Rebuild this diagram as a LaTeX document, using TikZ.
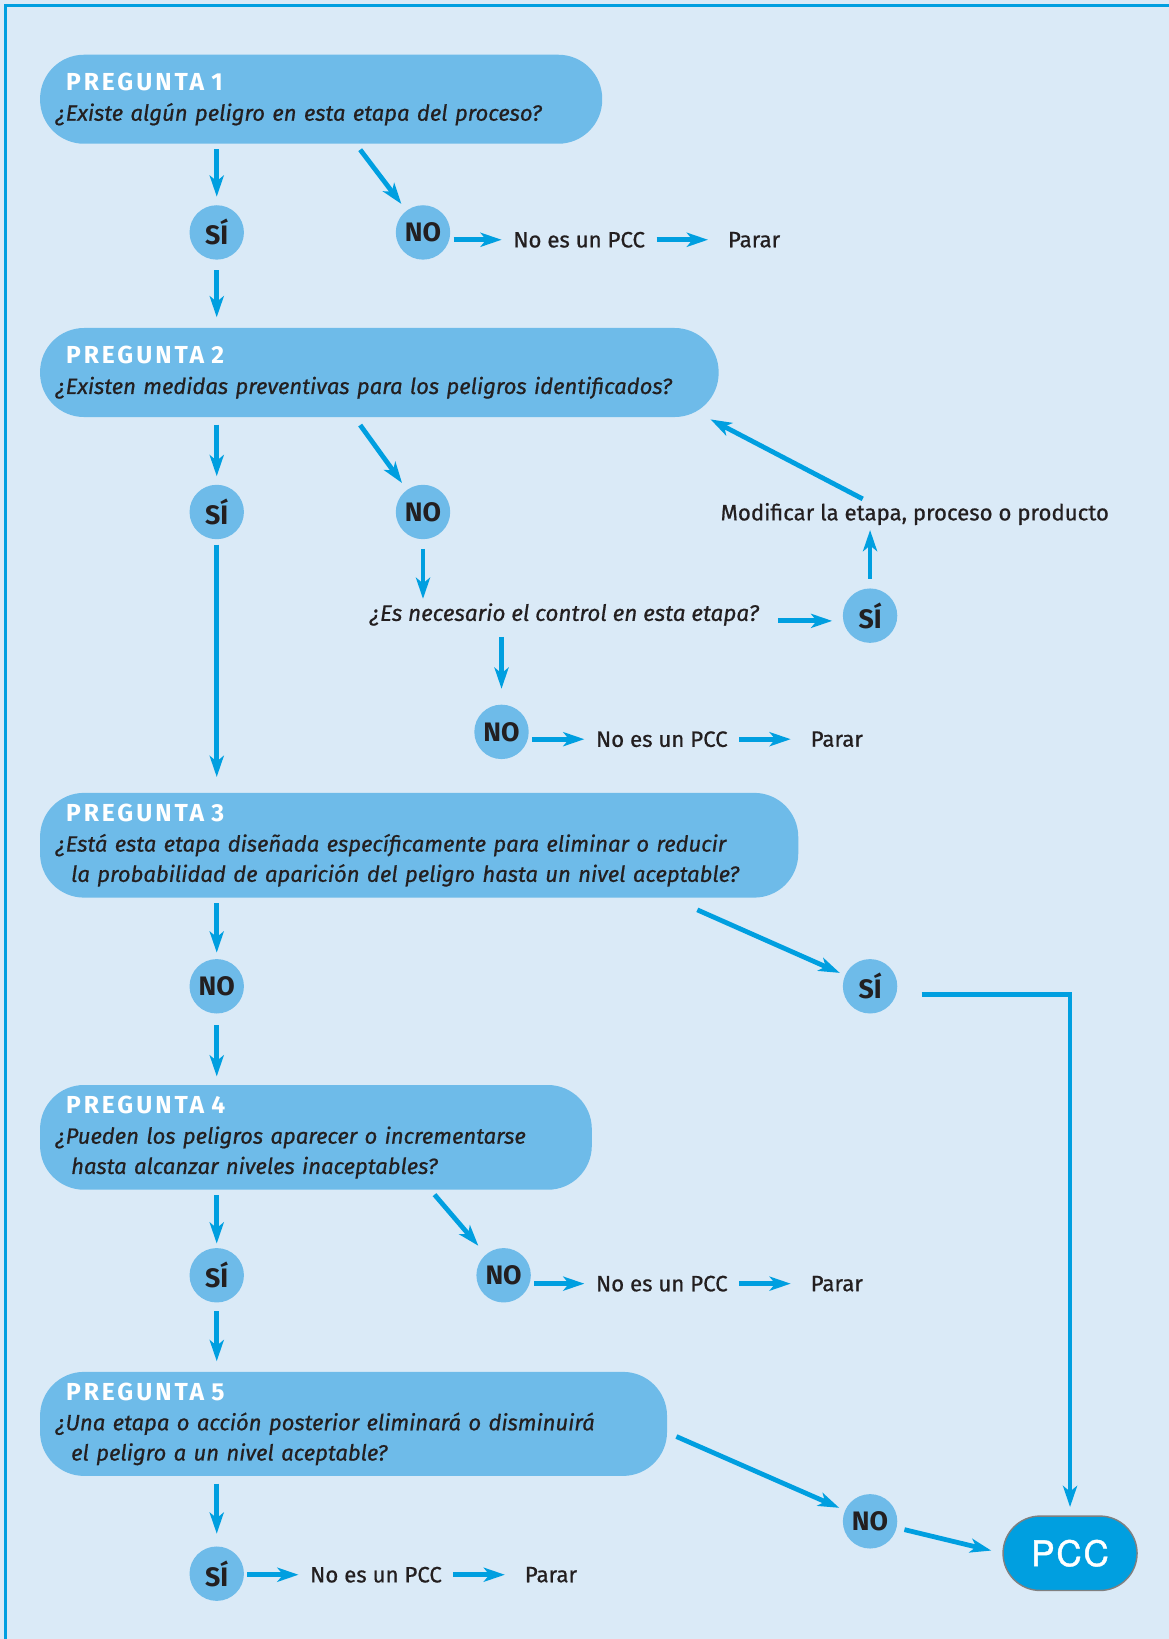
\documentclass[tikz,border=0pt]{standalone}
\usepackage{fontspec}
\setmainfont{Fira Sans}
\newfontfamily\medio{Fira Sans}[FakeBold=0.7]
\newfontfamily\pccfont{TeX Gyre Heros}[FakeBold=1.2, LetterSpace=5]
\usetikzlibrary{arrows.meta,calc}
\definecolor{fondo}{HTML}{DAEAF7}
\definecolor{celeste}{HTML}{6EBBE9}
\definecolor{azul}{HTML}{009FE0}
\definecolor{texto}{HTML}{231F20}
\newcommand{\titulo}[1]{\hspace*{7.4pt}{\rmfamily\upshape\bfseries\fontsize{17.5}{21.5}\selectfont\addfontfeatures{LetterSpace=12}\color{white}#1}}
\tikzset{pill/.style 2 args={fill=celeste, rounded corners=1.1cm, anchor=north west,
   align=left, inner xsep=0.39cm, inner ysep=0pt, text width=#1, minimum height=#2,
   font=\medio\fontsize{15.7}{21.5}\selectfont\itshape, text=texto},
 bola/.style={circle, fill=celeste, minimum size=1.36cm, inner sep=0pt,
   font=\fontsize{19}{19}\selectfont\bfseries, text=texto},
 etiqueta/.style={anchor=west, inner sep=0pt, font=\medio\fontsize{15.8}{15.8}\selectfont, text=texto},
 pregunta/.style={anchor=base west, inner sep=0pt, font=\medio\fontsize{16}{16}\selectfont\itshape, text=texto},
 pcc/.style={draw=gray, line width=1pt, fill=azul, rounded corners=0.93cm,
   minimum width=3.35cm, minimum height=1.86cm, text=white,
   font=\pccfont\fontsize{25}{25}\selectfont},
 flecha/.style={draw=azul, line width=3.4pt, -{Stealth[length=15pt,width=10pt,inset=4pt]}},
 }

\begin{document}
\begin{tikzpicture}[x=0.026175cm, y=-0.026175cm]
    \useasboundingbox (0,0) rectangle (1116.5,1565.4);
    \fill[fondo] (0,0) rectangle (1116.5,1565.4);
    \draw[azul, line width=2.1pt] (5.7,1600) |- (1150,5.7);

    \node[pill={13.27cm}{2.225cm}] (q1) at (38,52) {\titulo{PREGUNTA 1}\\¿Existe algún peligro en esta etapa del proceso?};
    \node[bola] (s1) at (207,222) {SÍ};
    \node[bola] (n1) at (404,222) {NO};
    \node[etiqueta] (t1) at (490,229) {No es un PCC};
    \node[etiqueta] (p1) at (695,229) {Parar};
    \coordinate (q1n) at (344,143);
    \draw[flecha, shorten <=3.7pt, shorten >=5.9pt] (s1 |- q1.south) -- (s1);
    \draw[flecha, shorten >=5.9pt] (q1n) -- (n1);
    \draw[flecha, shorten <=2.2pt, shorten >=8.1pt] (n1.east |- t1.west) -- (t1.west);
    \draw[flecha, shorten <=8.1pt, shorten >=14pt] (t1.east) -- (p1.west);

    \node[pill={16.18cm}{2.225cm}] (q2) at (38,313) {\titulo{PREGUNTA 2}\\¿Existen medidas preventivas para los peligros identificados?};
    \node[bola] (s2) at (207,489) {SÍ};
    \node[bola] (n2) at (404,489) {NO};
    \node[pregunta] (e2) at (353,593) {¿Es necesario el control en esta etapa?};
    \node[bola] (s2b) at (831,588) {SÍ};
    \node[etiqueta, anchor=base west] (m2) at (688,497) {Modificar la etapa, proceso o producto};
    \node[bola] (n2b) at (479,699) {NO};
    \node[etiqueta] (t2) at (569,706) {No es un PCC};
    \node[etiqueta] (p2) at (774,706) {Parar};
    \coordinate (q2n) at (344,406);
    \draw[flecha, shorten <=7.4pt, shorten >=7.4pt] (s1) -- (s1 |- q2.north);
    \draw[flecha, shorten <=5.2pt, shorten >=5.9pt] (s2 |- q2.south) -- (s2);
    \draw[flecha, shorten >=5.9pt] (q2n) -- (n2);
    \draw[flecha, shorten <=6.7pt, shorten >=3pt] (n2) -- (n2 |- e2.north);
    \draw[flecha, shorten <=13.3pt, shorten >=7.4pt] (e2.base east) -- (e2.base east -| s2b.west);
    \draw[flecha, shorten <=6.7pt, shorten >=3.3pt] (s2b) -- (s2b |- m2.south);
    \draw[flecha, shorten <=5.9pt] (m2.north -| s2b) -- ($(q2.south east)+(-8,2)$);
    \draw[flecha, shorten <=7.8pt, shorten >=11.1pt] (e2.south -| n2b) -- (n2b);
    \draw[flecha, shorten <=2.2pt, shorten >=8.1pt] (n2b.east |- t2.west) -- (t2.west);
    \draw[flecha, shorten <=8.1pt, shorten >=14pt] (t2.east) -- (p2.west);

    \node[pill={18.17cm}{2.6175cm}] (q3) at (38,757) {\titulo{PREGUNTA 3}\\¿Está esta etapa diseñada específicamente para eliminar o reducir\\\hspace*{11pt}la probabilidad de aparición del peligro hasta un nivel aceptable?};
    \node[bola] (n3) at (207,942) {NO};
    \node[bola] (s3) at (831,942) {SÍ};
    \coordinate (q3s) at (666,869);
    \draw[flecha, shorten <=3.7pt, shorten >=11.1pt] (s2) -- (s2 |- q3.north);
    \draw[flecha, shorten <=3.7pt, shorten >=4.4pt] (n3 |- q3.south) -- (n3);
    \draw[flecha, shorten >=4pt] (q3s) -- (s3);

    \node[pill={13.01cm}{2.6175cm}] (q4) at (38,1036) {\titulo{PREGUNTA 4}\\¿Pueden los peligros aparecer o incrementarse\\\hspace*{11pt}hasta alcanzar niveles inaceptables?};
    \node[bola] (s4) at (207,1218) {SÍ};
    \node[bola] (n4) at (481,1218) {NO};
    \node[etiqueta] (t4) at (569,1226) {No es un PCC};
    \node[etiqueta] (p4) at (774,1226) {Parar};
    \coordinate (q4n) at (415,1141);
    \draw[flecha, shorten <=8.1pt, shorten >=5.9pt] (n3) -- (n3 |- q4.north);
    \draw[flecha, shorten <=3.7pt, shorten >=3pt] (s4 |- q4.south) -- (s4);
    \draw[flecha, shorten >=8.1pt] (q4n) -- (n4);
    \draw[flecha, shorten <=2.2pt, shorten >=8.1pt] (n4.east |- t4.west) -- (t4.west);
    \draw[flecha, shorten <=8.1pt, shorten >=14pt] (t4.east) -- (p4.west);

    \node[pill={14.89cm}{2.6cm}] (q5) at (38,1310) {\titulo{PREGUNTA 5}\\¿Una etapa o acción posterior eliminará o disminuirá\\\hspace*{11pt}el peligro a un nivel aceptable?};
    \node[bola] (s5) at (207,1503) {SÍ};
    \node[etiqueta] (t5) at (296,1504) {No es un PCC};
    \node[etiqueta] (p5) at (501,1504) {Parar};
    \node[bola] (n5) at (831,1453) {NO};
    \node[pcc] (pcc) at (1022,1483.5) {PCC};
    \coordinate (q5n) at (646,1372);
    \draw[flecha, shorten <=5.9pt, shorten >=7.4pt] (s4) -- (s4 |- q5.north);
    \draw[flecha, shorten <=5.2pt, shorten >=8.9pt] (s5 |- q5.south) -- (s5);
    \draw[flecha, shorten <=2.2pt, shorten >=8.1pt] (s5.east |- t5.west) -- (t5.west);
    \draw[flecha, shorten <=8.1pt, shorten >=14pt] (t5.east) -- (p5.west);
    \draw[flecha, shorten >=4.4pt] (q5n) -- (n5);
    \draw[flecha, shorten <=5.6pt, shorten >=8.1pt] (n5) -- (pcc.west);
    \draw[flecha, shorten >=5.9pt] ($(s3.east)+(23,8)$) -| (pcc.north);
\end{tikzpicture}
\end{document}
